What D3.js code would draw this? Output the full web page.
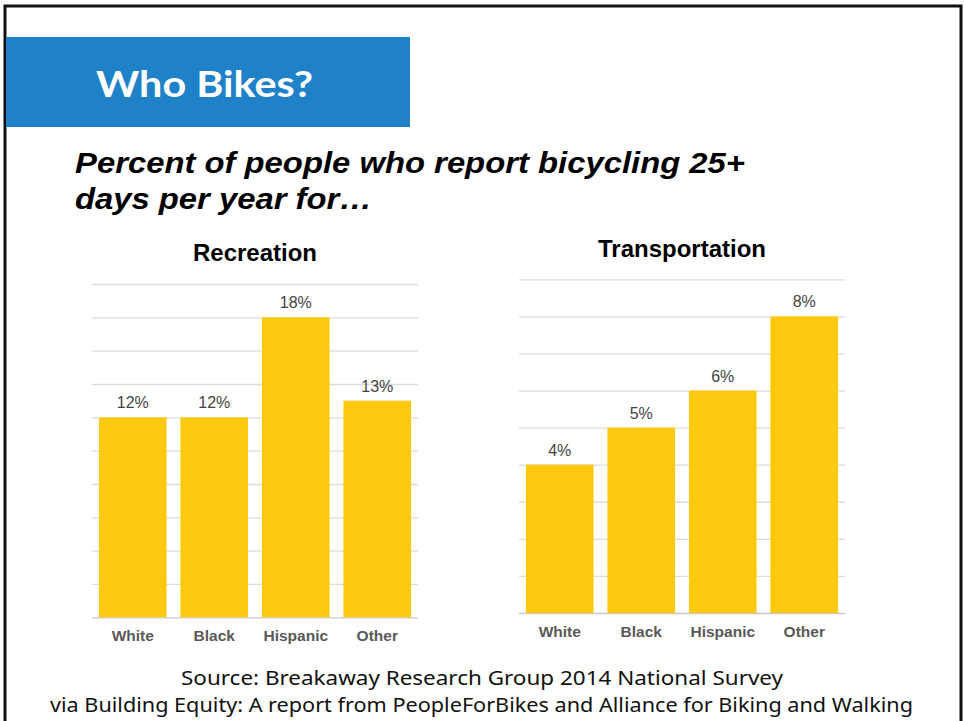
<!DOCTYPE html>
<html>
<head>
<meta charset="utf-8">
<script src="https://cdn.jsdelivr.net/npm/d3@7"></script>
<style>
  body { margin: 0; background: #fff; }
  svg { display: block; }
</style>
</head>
<body>
<div id="chart"></div>
<script>
// data
const groups = ["White", "Black", "Hispanic", "Other"];
const recreation = [12, 12, 18, 13];
const transportation = [4, 5, 6, 8];
const recreationTicks = [0, 2, 4, 6, 8, 10, 12, 14, 16, 18, 20];
const transportationTicks = [0, 1, 2, 3, 4, 5, 6, 7, 8, 9];

const W = 965, H = 721;
const barColor = "#FCC90F";

let svg = d3.select("#chart")
    .append("svg")
    .attr("width", W)
    .attr("height", H);

// slide frame
svg.append("rect")
    .attr("x", 5).attr("y", 6)
    .attr("width", 956).attr("height", 730)
    .attr("fill", "none")
    .attr("stroke", "#111")
    .attr("stroke-width", 3);

// blue title box
svg.append("rect")
    .attr("x", 6).attr("y", 37)
    .attr("width", 404).attr("height", 90)
    .attr("fill", "#1F82C8");

svg.append("text")
    .attr("x", 96).attr("y", 97)
    .attr("textLength", 217)
    .attr("lengthAdjust", "spacingAndGlyphs")
    .style("font-family", "Lato, 'Open Sans', sans-serif")
    .style("font-weight", "bold")
    .style("font-size", "37px")
    .style("fill", "#fff")
    .text("Who Bikes?");

// subtitle
let sub = svg.append("text")
    .style("font-family", "'Liberation Sans', Arial, sans-serif")
    .style("font-weight", "bold")
    .style("font-style", "italic")
    .style("font-size", "29px")
    .style("fill", "#000");
sub.append("tspan").attr("x", 75).attr("y", 173)
    .attr("textLength", 670).attr("lengthAdjust", "spacingAndGlyphs")
    .text("Percent of people who report bicycling 25+");
sub.append("tspan").attr("x", 75).attr("y", 209)
    .attr("textLength", 297).attr("lengthAdjust", "spacingAndGlyphs")
    .text("days per year for\u2026");

function drawChart(title, values, ticks, xRange, yRange, titleY) {
    let g = svg.append("g");

    let x = d3.scaleBand()
        .domain(groups)
        .range(xRange)
        .paddingInner(0.17)
        .paddingOuter(0.085);

    let y = d3.scaleLinear()
        .domain([0, d3.max(ticks)])
        .range(yRange);

    // gridlines
    g.append("g")
        .attr("transform", `translate(${xRange[0]},0)`)
        .call(d3.axisLeft(y).tickValues(ticks).tickSize(-(xRange[1] - xRange[0])).tickFormat(""))
        .call(a => a.select(".domain").remove())
        .call(a => a.selectAll(".tick line")
            .attr("stroke", d => d === 0 ? "#c8c8c8" : "#dcdcdc")
            .attr("stroke-width", 1.3));

    g.selectAll("rect.bar")
        .data(values)
        .enter()
        .append("rect")
        .attr("class", "bar")
        .attr("x", (d, i) => x(groups[i]))
        .attr("y", d => y(d))
        .attr("width", x.bandwidth())
        .attr("height", d => y(0) - y(d))
        .attr("fill", barColor);

    g.selectAll("text.val")
        .data(values)
        .enter()
        .append("text")
        .attr("class", "val")
        .attr("x", (d, i) => x(groups[i]) + x.bandwidth() / 2)
        .attr("y", d => y(d) - 9)
        .attr("text-anchor", "middle")
        .style("font-family", "'Liberation Sans', Arial, sans-serif")
        .style("font-size", "16px")
        .style("fill", "#444")
        .text(d => d + "%");

    // category labels
    g.append("g")
        .attr("transform", `translate(0,${yRange[0]})`)
        .call(d3.axisBottom(x).tickSize(0).tickPadding(13))
        .call(a => a.select(".domain").remove())
        .call(a => a.selectAll("text")
            .style("font-family", "'Liberation Sans', Arial, sans-serif")
            .style("font-weight", "bold")
            .style("font-size", "15.5px")
            .style("fill", "#595959"));

    svg.append("text")
        .attr("x", (xRange[0] + xRange[1]) / 2)
        .attr("y", titleY)
        .attr("text-anchor", "middle")
        .style("font-family", "'Liberation Sans', Arial, sans-serif")
        .style("font-weight", "bold")
        .style("font-size", "24px")
        .style("fill", "#000")
        .text(title);
}

drawChart("Recreation", recreation, recreationTicks, [92, 418], [617.3, 284], 261);
drawChart("Transportation", transportation, transportationTicks, [519, 845], [613, 279.3], 257);

// source
let src = svg.append("text")
    .style("font-family", "'Noto Sans', sans-serif")
    .style("font-size", "19px")
    .style("fill", "#111");
src.append("tspan").attr("x", 181).attr("y", 685)
    .attr("textLength", 602).attr("lengthAdjust", "spacingAndGlyphs")
    .text("Source: Breakaway Research Group 2014 National  Survey");
src.append("tspan").attr("x", 50).attr("y", 712)
    .attr("textLength", 863).attr("lengthAdjust", "spacingAndGlyphs")
    .text("via Building Equity: A report from PeopleForBikes and Alliance for Biking and Walking");
</script>
</body>
</html>
